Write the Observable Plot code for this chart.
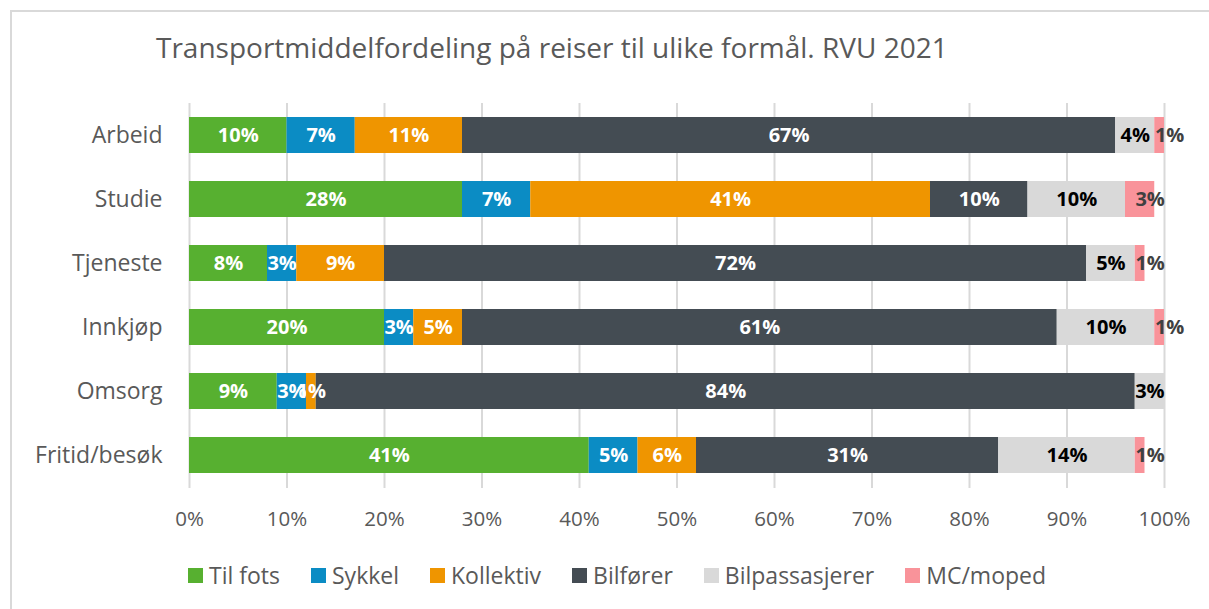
<!DOCTYPE html>
<html>
<head>
<meta charset="utf-8">
<script src="https://cdn.jsdelivr.net/npm/d3@7"></script>
<script src="https://cdn.jsdelivr.net/npm/@observablehq/plot@0.6"></script>
<style>
  body { margin: 0; background: #fff; font-family: "Open Sans", sans-serif; }
  #frame { position: absolute; left: 10px; top: 10px; width: 1250px; height: 650px; border-left: 2px solid #d9d9d9; border-top: 2px solid #d9d9d9; box-sizing: border-box; }
  #title { position: absolute; left: 156px; top: 28px; font-size: 28px; line-height: 38px; color: #595959; white-space: nowrap; }
  #chart { position: absolute; left: 0; top: 90px; }
  #legend { position: absolute; left: 188px; top: 559px; display: flex; font-size: 23px; line-height: 32px; color: #595959; }
  .item { display: flex; align-items: center; margin-right: 31px; white-space: nowrap; }
  .sw { width: 15px; height: 15px; margin-right: 6px; }
</style>
</head>
<body>
<div id="frame"></div>
<div id="title">Transportmiddelfordeling på reiser til ulike formål. RVU 2021</div>
<div id="chart"></div>
<div id="legend"></div>
<script>
const purposes = ["Arbeid", "Studie", "Tjeneste", "Innkjøp", "Omsorg", "Fritid/besøk"];
const modes = ["Til fots", "Sykkel", "Kollektiv", "Bilfører", "Bilpassasjerer", "MC/moped"];
const colors = ["#57b030", "#0b8cc4", "#ef9500", "#444c53", "#d9d9d9", "#f9939a"];
const labelColors = ["#ffffff", "#ffffff", "#ffffff", "#ffffff", "#000000", "#404040"];
// percent by purpose, in mode order
const tilFots        = [10, 28, 8, 20, 9, 41];
const sykkel         = [7, 7, 3, 3, 3, 5];
const kollektiv      = [11, 41, 9, 5, 1, 6];
const bilforer       = [67, 10, 72, 61, 84, 31];
const bilpassasjerer = [4, 10, 5, 10, 3, 14];
const mcMoped        = [1, 3, 1, 1, 0, 1];
const xTicks = [0, 10, 20, 30, 40, 50, 60, 70, 80, 90, 100];

const series = [tilFots, sykkel, kollektiv, bilforer, bilpassasjerer, mcMoped];
const data = [];
purposes.forEach((p, i) => {
  let x = 0;
  modes.forEach((m, j) => {
    const v = series[j][i];
    if (v > 0) data.push({purpose: p, mode: m, value: v, x1: x, x2: x + v, mi: j});
    x += v;
  });
});
const mainLabels = data.filter(d => d.mi < 5);
const mcLabels = data.filter(d => d.mi === 5);

const plot = Plot.plot({
  width: 1209,
  height: 460,
  marginTop: 13,
  marginBottom: 62,
  marginLeft: 189,
  marginRight: 45,
  style: { fontFamily: "Open Sans, sans-serif", color: "#595959", background: "transparent" },
  x: { domain: [0, 100], label: null },
  y: { domain: purposes, paddingInner: 0.43, paddingOuter: 0.21, label: null },
  color: { domain: modes, range: colors },
  marks: [
    Plot.ruleX(xTicks, { stroke: "#d9d9d9", strokeWidth: 2 }),
    Plot.barX(data, { y: "purpose", x1: "x1", x2: "x2", fill: "mode" }),
    Plot.text(mainLabels, {
      y: "purpose",
      x: d => (d.x1 + d.x2) / 2,
      text: d => d.value + "%",
      fill: d => labelColors[d.mi],
      fontWeight: "bold",
      fontSize: 20
    }),
    Plot.text(mcLabels, {
      y: "purpose",
      x: d => (d.x1 + d.x2) / 2,
      text: d => d.value + "%",
      fill: labelColors[5],
      fontWeight: "bold",
      fontSize: 20,
      dx: 10
    }),
    Plot.axisX({ ticks: xTicks, tickFormat: d => d + "%", tickSize: 0, tickPadding: 23, fontSize: 20.5, label: null }),
    Plot.axisY({ tickSize: 0, tickPadding: 27, fontSize: 23, label: null })
  ]
});
document.getElementById("chart").appendChild(plot);

const legend = document.getElementById("legend");
modes.forEach((m, j) => {
  const it = document.createElement("div");
  it.className = "item";
  it.innerHTML = `<span class="sw" style="background:${colors[j]}"></span><span>${m}</span>`;
  legend.appendChild(it);
});
</script>
</body>
</html>
